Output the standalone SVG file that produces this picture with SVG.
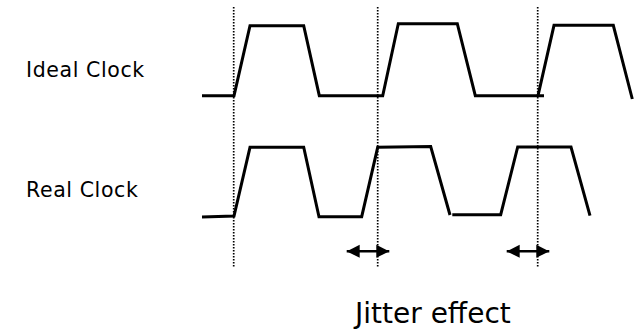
<svg xmlns="http://www.w3.org/2000/svg" width="636" height="331" viewBox="0 0 636 331">
<style>
.wave{fill:none;stroke:#000;stroke-width:3;stroke-linejoin:miter}
.guide{fill:none;stroke:#000;stroke-width:1.7;stroke-dasharray:1.5 1.5}
.arr{fill:none;stroke:#000;stroke-width:2.5}
.lbl{font-family:"DejaVu Sans",Verdana,sans-serif;fill:#000}
.side{font-size:20.5px;letter-spacing:0.6px}
</style>
<defs>
<marker id="ah" viewBox="0 0 10 10" refX="10" refY="5" markerUnits="userSpaceOnUse" markerWidth="13" markerHeight="14" orient="auto-start-reverse">
<path d="M0,0 L10,5 L0,10 Z" fill="#000"/>
</marker>
</defs>
<rect width="636" height="331" fill="#fff"/>
<g id="guides">
<line class="guide" x1="233.7" y1="7" x2="233.7" y2="268"/>
<line class="guide" x1="377.7" y1="7" x2="377.7" y2="268"/>
<line class="guide" x1="537.7" y1="7" x2="537.7" y2="268"/>
</g>
<g id="ideal-clock">
<text class="lbl side" x="26" y="77">Ideal Clock</text>
<polyline class="wave" points="202,95.7 234,95.7 250,25.7 303.7,25.7 319.3,95.7 382.7,95.7 398.3,23.7 457.3,23.7 475.3,95.7 544,95.7"/>
<polyline class="wave" points="538,95.7 554,25.3 613.3,25.3 632.3,99"/>
</g>
<g id="real-clock">
<text class="lbl side" x="26" y="197">Real Clock</text>
<polyline class="wave" points="202,217 234,216 250,147.3 303.7,147.3 319,216.7 361.7,216.7 377.7,147.3 430.7,146.5 450,215"/>
<polyline class="wave" points="452.3,214.7 500.7,214.7 517.7,147 571,147 590,215.7"/>
</g>
<g id="connectors">
<line class="arr" x1="346.7" y1="251.3" x2="389.3" y2="251.3" marker-start="url(#ah)" marker-end="url(#ah)"/>
<line class="arr" x1="506.7" y1="251.3" x2="549.3" y2="251.3" marker-start="url(#ah)" marker-end="url(#ah)"/>
</g>
<g id="caption">
<text class="lbl" x="355" y="323" font-size="28">Jitter effect</text>
</g>
</svg>
